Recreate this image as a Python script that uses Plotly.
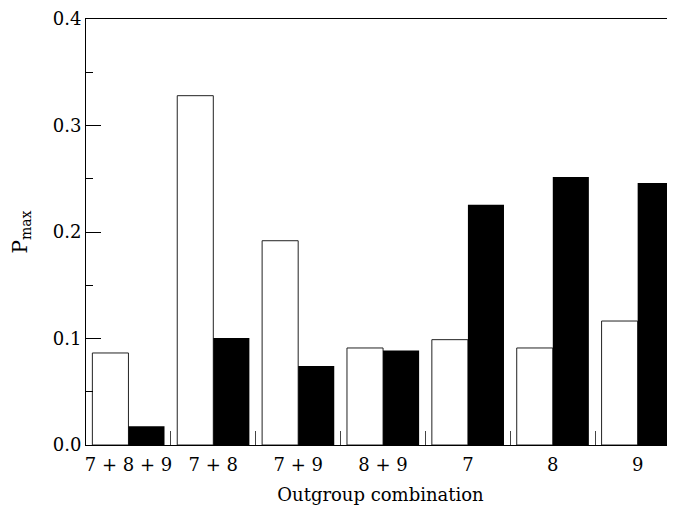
import plotly.graph_objects as go

categories = ["7 + 8 + 9", "7 + 8", "7 + 9", "8 + 9", "7", "8", "9"]
white_values = [0.0864, 0.328, 0.1918, 0.0911, 0.0989, 0.0911, 0.1164]
black_values = [0.0175, 0.1005, 0.0742, 0.0888, 0.2256, 0.2516, 0.246]
y_tick_vals = [0.0, 0.1, 0.2, 0.3, 0.4]

FONT = "DejaVu Serif"

fig = go.Figure()
fig.add_trace(go.Bar(x=categories, y=white_values, marker=dict(color="white", line=dict(color="#222", width=1)), showlegend=False))
fig.add_trace(go.Bar(x=categories, y=black_values, marker=dict(color="black", line=dict(color="black", width=0)), showlegend=False))

# page has an 8px body margin, so the figure is sized/offset to compensate
fig.update_layout(
    width=667, height=499,
    margin=dict(l=78, r=0, t=11, b=62),
    barmode="group", bargap=0.15, bargroupgap=0,
    plot_bgcolor="white", paper_bgcolor="white",
    font=dict(family=FONT, size=18, color="black"),
)
fig.update_xaxes(
    type="category", range=[-0.5, 6.44],
    showline=True, linecolor="black", linewidth=1, mirror=True,
    ticks="inside", ticklen=14, tickcolor="#444", tickson="boundaries",
    tickangle=0, ticklabelstandoff=3,
    showgrid=False, zeroline=False,
    title=dict(text="Outgroup combination", font=dict(size=18), standoff=14),
    tickfont=dict(size=18),
)
fig.update_yaxes(
    range=[0, 0.4], tickvals=y_tick_vals, tickformat=".1f",
    showline=True, linecolor="black", linewidth=1,
    ticks="inside", ticklen=15, tickcolor="black",
    minor=dict(ticks="inside", ticklen=7, dtick=0.05, tickcolor="black", showgrid=False),
    showgrid=False, zeroline=False,
    title=dict(text="P<sub>max</sub>", font=dict(size=20), standoff=22),
    tickfont=dict(size=18),
)

fig.write_html("out.html")
